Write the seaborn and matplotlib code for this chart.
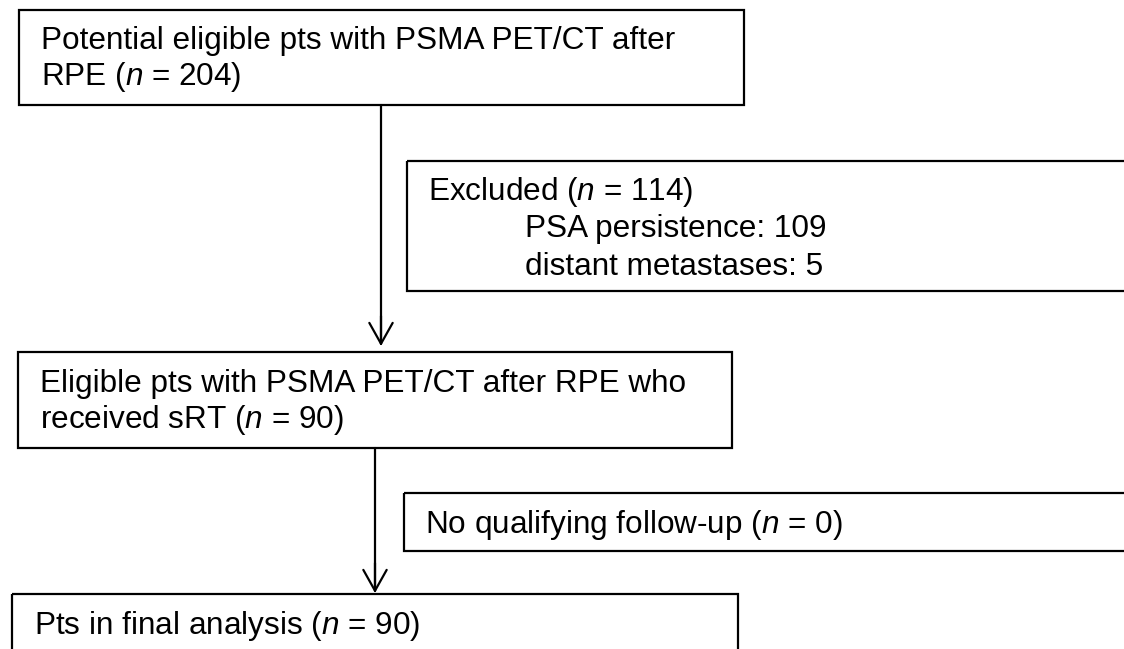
import matplotlib
matplotlib.use("Agg")
import matplotlib.pyplot as plt
import seaborn as sns
import pandas as pd
from matplotlib.patches import Rectangle

# box texts (flow of patients)
main_labels = [
    ["Potential eligible pts with PSMA PET/CT after", "RPE ($n$ = 204)"],
    ["Eligible pts with PSMA PET/CT after RPE who", "received sRT ($n$ = 90)"],
    ["Pts in final analysis ($n$ = 90)"],
]
side_labels = [
    ["Excluded ($n$ = 114)", "PSA persistence: 109", "distant metastases: 5"],
    ["No qualifying follow-up ($n$ = 0)"],
]
side_indent = [False, True, True]

sns.set_theme(style="white")
plt.rcParams["font.family"] = ["Liberation Sans", "DejaVu Sans"]
plt.rcParams["mathtext.fontset"] = "custom"
plt.rcParams["mathtext.rm"] = "Liberation Sans"
plt.rcParams["mathtext.it"] = "Liberation Sans:italic"
plt.rcParams["text.color"] = "black"

fig = plt.figure(figsize=(11.24, 6.49), dpi=100)
ax = fig.add_axes([0, 0, 1, 1])
ax.set_xlim(0, 1124)
ax.set_ylim(649, 0)
ax.axis("off")

fs = 22.7
lw = 1.6

# layout in pixels: (x0, y0, x1, y1)
main_boxes = [(19, 10, 744, 105), (18, 352, 732, 448), (12, 594, 738, 700)]
main_text_x = [41, 40, 34]
main_text_y = [49, 392, 634]
main_line_h = 36
side_boxes = [(407, 161, 1140, 291), (404, 493, 1140, 551)]
side_text_x = [428, 425]
side_text_y = [200, 533]
side_line_h = 37.5
indent = 97

for (x0, y0, x1, y1), lines, tx, ty in zip(main_boxes, main_labels, main_text_x, main_text_y):
    ax.add_patch(Rectangle((x0, y0), x1 - x0, y1 - y0, fill=False, lw=lw, ec="black", clip_on=False))
    for i, t in enumerate(lines):
        ax.text(tx, ty + i * main_line_h, t, fontsize=fs, va="baseline", ha="left", color="black")

for (x0, y0, x1, y1), lines, tx, ty in zip(side_boxes, side_labels, side_text_x, side_text_y):
    ax.add_patch(Rectangle((x0, y0), x1 - x0, y1 - y0, fill=False, lw=lw, ec="black"))
    for i, t in enumerate(lines):
        x = tx + (indent if side_indent[i] else 0)
        ax.text(x, ty + i * side_line_h, t, fontsize=fs, va="baseline", ha="left", color="black")

# connectors
arrows = pd.DataFrame({"x": [381, 375], "y0": [105, 448], "y1": [346, 593]})
for _, r in arrows.iterrows():
    seg = pd.DataFrame({"x": [r.x, r.x], "y": [r.y0, r.y1 - 2]})
    sns.lineplot(data=seg, x="x", y="y", ax=ax, color="black", lw=lw, sort=False, estimator=None)
    ax.annotate("", xy=(r.x, r.y1), xytext=(r.x, r.y1 - 30),
                arrowprops=dict(arrowstyle="->,head_length=1.25,head_width=0.7", lw=lw, color="black",
                                shrinkA=0, shrinkB=0))

ax.set_xlim(0, 1124)
ax.set_ylim(649, 0)
ax.axis("off")
fig.savefig("out.png", dpi=100)
